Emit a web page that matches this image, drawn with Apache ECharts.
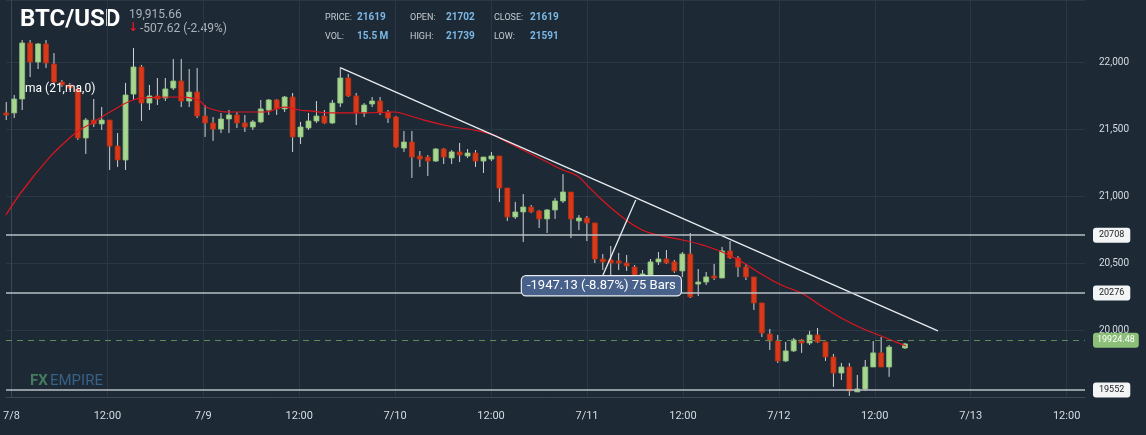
<!DOCTYPE html>
<html><head><meta charset="utf-8">
<script src="https://cdn.jsdelivr.net/npm/echarts@6/dist/echarts.min.js"></script>
<style>html,body{margin:0;padding:0;background:#1d2935;}#c{width:1146px;height:435px;}</style>
</head><body><div id="c"></div>
<script>
// candles: [open, close, low, high], hourly from 7/8 00:00
const candles = [
[21620,21605,21567,21702],[21620,21724,21582,21754],[21724,22142,21642,22164],[22142,22000,21888,22164],
[22000,22135,21948,22142],[22135,21993,21956,22164],[21985,21851,21829,22067],[21851,21829,21814,21866],
[21829,21806,21791,21844],[21799,21433,21418,21829],[21433,21567,21314,21582],[21567,21538,21515,21724],
[21538,21567,21493,21664],[21567,21373,21194,21567],[21373,21269,21217,21470],[21269,21754,21194,21844],
[21761,21963,21717,22105],[21963,21694,21560,21978],[21694,21747,21642,21829],[21747,21724,21679,21881],
[21732,21799,21709,21881],[21806,21858,21791,22023],[21858,21709,21664,22023],[21709,21776,21664,21948],
[21776,21597,21582,21956],[21597,21545,21441,21679],[21545,21500,21411,21590],[21500,21575,21470,21620],
[21575,21605,21470,21642],[21605,21545,21508,21627],[21545,21515,21478,21605],[21515,21553,21493,21567],
[21553,21650,21545,21717],[21642,21717,21605,21724],[21717,21650,21605,21724],[21650,21739,21627,21747],
[21739,21441,21329,21769],[21441,21515,21388,21553],[21508,21560,21493,21620],[21560,21597,21545,21709],
[21597,21545,21538,21642],[21545,21694,21538,21717],[21694,21881,21664,21963],[21881,21747,21739,21911],
[21747,21620,21530,21769],[21620,21679,21590,21694],[21687,21709,21664,21739],[21709,21620,21605,21739],
[21627,21582,21545,21642],[21590,21366,21358,21597],[21358,21403,21329,21485],[21403,21291,21135,21485],
[21299,21276,21217,21336],[21291,21261,21150,21306],[21261,21351,21254,21358],[21351,21291,21239,21358],
[21284,21329,21239,21343],[21329,21306,21254,21396],[21299,21321,21284,21351],[21321,21261,21217,21343],
[21261,21291,21172,21291],[21276,21299,21261,21329],[21299,21060,20956,21299],[21060,20844,20814,21060],
[20844,20881,20829,20956],[20881,20918,20657,21015],[20918,20881,20873,20933],[20888,20829,20761,20896],
[20829,20896,20724,20903],[20896,20963,20829,20985],[20963,21030,20948,21164],[21030,20829,20687,21030],
[20814,20836,20746,20858],[20836,20799,20664,20851],[20799,20530,20500,20799],[20530,20508,20448,20567],
[20523,20500,20388,20627],[20515,20500,20448,20575],[20500,20478,20441,20560],[20470,20366,20351,20485],
[20366,20418,20351,20448],[20411,20508,20396,20530],[20508,20530,20485,20582],[20530,20500,20493,20597],
[20508,20441,20426,20523],[20441,20567,20396,20582],[20567,20247,20239,20724],[20344,20358,20254,20455],
[20358,20396,20336,20433],[20403,20388,20373,20493],[20388,20590,20388,20620],[20590,20538,20530,20664],
[20538,20470,20396,20552],[20470,20396,20373,20493],[20396,20202,20150,20396],[20202,19978,19948,20202],
[19970,19918,19851,20008],[19918,19769,19754,19963],[19769,19844,19761,19911],[19844,19926,19836,19940],
[19926,19903,19829,19933],[19903,19963,19888,19993],[19963,19911,19903,20015],[19911,19799,19769,19911],
[19799,19679,19575,19821],[19679,19724,19627,19754],[19724,19545,19508,19754],[19538,19560,19538,19664],
[19560,19724,19545,19776],[19724,19829,19724,19918],[19829,19724,19724,19948],[19724,19873,19650,19888],
null,[19866,19896,19858,19903]
];
const maHours = [-0.7,2.7,7.4,10.3,13.2,15.2,16.7,20.5,23.3,24.6,27.9,31.7,34.1,36.0,37.3,40.4,44.1,47.8,49.1,51.6,55.3,57.8,60.3,61.5,64.0,66.5,69.0,70.8,72.1,73.9,76.4,78.9,81.4,83.9,86.4,88.9,91.4,93.8,96.3,98.8,101.3,103.8,106.3,108.8,110.6,111.9];
const maValues = [20859,21142,21441,21553,21657,21717,21732,21739,21717,21657,21627,21627,21664,21642,21635,21620,21620,21627,21612,21567,21515,21493,21456,21418,21344,21269,21194,21150,21075,20970,20844,20747,20702,20672,20635,20582,20508,20418,20336,20276,20180,20090,20015,19955,19911,19881];
const trendLine = [[41.2,21956],[115.9,19993]];
const levels = [20708,20276,19552];
const lastPrice = 19924.48;
const measureLine = [[74.0,20411],[78.1,20970]];
const measureLabel = '-1947.13 (-8.87%) 75 Bars';
const tickHours = [0,12,24,36,48,60,72,84,96,108,120,132];
const dayLabels = {0:'7/8',24:'7/9',48:'7/10',72:'7/11',96:'7/12',120:'7/13'};

const candleData = [];
candles.forEach((c,k)=>{ if(c) candleData.push([k*0.995-0.65, c[0], c[1], c[2], c[3]]); });

const chart = echarts.init(document.getElementById('c'));
const textC = '#d6dce2';
chart.setOption({
  backgroundColor:'#1d2935',
  animation:false,
  grid:{left:0, right:61, top:0, bottom:38},
  xAxis:{type:'value', min:-0.68, max:134.3,
    axisLine:{show:true,lineStyle:{color:'#3a4856'}},
    axisTick:{show:false, customValues:tickHours},
    splitLine:{show:true,lineStyle:{color:'#2a3846'}},
    axisLabel:{color:textC,fontSize:11,fontFamily:'Roboto',margin:14,customValues:tickHours,
      formatter:v=>(v%24===12?'12:00':(dayLabels[v]||''))}},
  yAxis:{type:'value', position:'right', min:19500, max:22463, interval:500,
    axisLine:{show:true,lineStyle:{color:'#3a4856'}}, axisTick:{show:false},
    splitLine:{show:true,lineStyle:{color:'#2a3846'}},
    axisLabel:{color:textC,fontSize:10,fontFamily:'Roboto',margin:14,showMinLabel:false,showMaxLabel:false}},
  series:[
    {type:'custom', data:candleData, encode:{x:0,y:[1,2,3,4]}, z:3,
      renderItem:(params,api)=>{
        const x=api.value(0),o=api.value(1),c=api.value(2),l=api.value(3),h=api.value(4);
        const pO=api.coord([x,o]),pC=api.coord([x,c]),pL=api.coord([x,l]),pH=api.coord([x,h]);
        const up=c>=o; const w=5;
        const top=Math.min(pO[1],pC[1]); const ht=Math.max(Math.abs(pO[1]-pC[1]),2);
        return {type:'group',children:[
          {type:'line',shape:{x1:pH[0],y1:pH[1],x2:pL[0],y2:pL[1]},style:{stroke:'#cfd3d6',lineWidth:1}},
          {type:'rect',shape:{x:pO[0]-w/2,y:top,width:w,height:ht},
            style:{fill:up?'#a6d68f':'#d8391b',stroke:up?'#8fc27a':'#b83010',lineWidth:0.8}}
        ]};
      }},
    {type:'line', data:maHours.map((h,i)=>[h,maValues[i]]), showSymbol:false, smooth:true, z:4,
      lineStyle:{color:'#e0141e',width:1.2}},
    {type:'line', data:trendLine, showSymbol:false, z:4, lineStyle:{color:'#e8ecef',width:1.3}},
    {type:'line', data:measureLine, showSymbol:false, z:5, lineStyle:{color:'#e8ecef',width:1.3}},
    {type:'line', data:[], z:5,
      markLine:{symbol:'none', silent:true,
        data:[
          ...levels.map(v=>({yAxis:v, lineStyle:{color:'#b9bfc5',width:1.6,type:'solid'},
            label:{show:true,position:'end',formatter:String(v),backgroundColor:'#f2f4f5',color:'#222',
              fontSize:9,fontFamily:'Roboto',padding:[3,6],borderRadius:3,distance:8}})),
          {yAxis:lastPrice, lineStyle:{color:'#5f8a5a',width:1.2,type:[6,5]},
            label:{show:true,position:'end',formatter:'19924.48',backgroundColor:'#8cc079',color:'#fff',
              fontSize:9,fontFamily:'Roboto',padding:[3,4],borderRadius:3,distance:8}}
        ]},
      markPoint:{symbol:'rect',symbolSize:1,silent:true,
        data:[{coord:[73.8,20330],itemStyle:{color:'transparent'},
          label:{show:true,formatter:measureLabel,color:'#fff',fontSize:13,fontFamily:'Roboto',
            backgroundColor:'#47618a',borderColor:'#e8ecef',borderWidth:1.2,borderRadius:4,padding:[3,5]}}]}}
  ],
  graphic:[
    {type:'text',left:20,top:8,style:{text:'BTC/USD',fill:'#fff',font:'bold 24px Roboto'}},
    {type:'text',left:129,top:9,style:{text:'19,915.66',fill:'#aab3bc',font:'12px Roboto'}},
    {type:'text',left:128,top:22,style:{text:'\u2193',fill:'#e3152b',font:'bold 12px "DejaVu Sans"'}},
    {type:'text',left:140,top:23,style:{text:'-507.62 (-2.49%)',fill:'#aab3bc',font:'12px Roboto'}},
    {type:'text',left:325,top:13,style:{text:'PRICE:',fill:'#c6ccd2',font:'9px Roboto'}},
    {type:'text',left:357,top:12,style:{text:'21619',fill:'#7cb8e6',font:'bold 10px Roboto'}},
    {type:'text',left:325,top:32,style:{text:'VOL:',fill:'#c6ccd2',font:'9px Roboto'}},
    {type:'text',left:357,top:31,style:{text:'15.5 M',fill:'#7cb8e6',font:'bold 10px Roboto'}},
    {type:'text',left:410,top:13,style:{text:'OPEN:',fill:'#c6ccd2',font:'9px Roboto'}},
    {type:'text',left:446,top:12,style:{text:'21702',fill:'#7cb8e6',font:'bold 10px Roboto'}},
    {type:'text',left:410,top:32,style:{text:'HIGH:',fill:'#c6ccd2',font:'9px Roboto'}},
    {type:'text',left:446,top:31,style:{text:'21739',fill:'#7cb8e6',font:'bold 10px Roboto'}},
    {type:'text',left:494,top:13,style:{text:'CLOSE:',fill:'#c6ccd2',font:'9px Roboto'}},
    {type:'text',left:530,top:12,style:{text:'21619',fill:'#7cb8e6',font:'bold 10px Roboto'}},
    {type:'text',left:494,top:32,style:{text:'LOW:',fill:'#c6ccd2',font:'9px Roboto'}},
    {type:'text',left:530,top:31,style:{text:'21591',fill:'#7cb8e6',font:'bold 10px Roboto'}},
    {type:'text',left:25,top:83,z:10,style:{text:'ma (21,ma,0)',fill:'#fff',font:'12px Roboto'}},
    {type:'text',left:30,top:374,style:{text:'FX',fill:'#4f8f6a',font:'bold 15px Roboto',opacity:0.8}},
    {type:'text',left:50,top:374,style:{text:'EMPIRE',fill:'#3f6f9a',font:'15px Roboto',opacity:0.8}}
  ]
});
</script></body></html>
